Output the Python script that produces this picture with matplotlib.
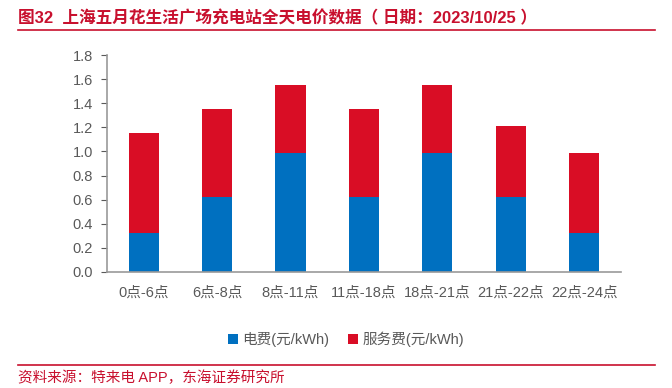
import numpy as np
import matplotlib.pyplot as plt
from matplotlib.lines import Line2D

plt.rcParams['font.family'] = ['Liberation Sans', 'Noto Sans CJK SC']
plt.rcParams['axes.unicode_minus'] = False

# 数据
periods = ['0点-6点', '6点-8点', '8点-11点', '11点-18点', '18点-21点', '21点-22点', '22点-24点']
power_fee = [0.32, 0.62, 0.99, 0.62, 0.99, 0.62, 0.32]
service_fee = [0.83, 0.73, 0.56, 0.73, 0.56, 0.59, 0.67]
yticks = [0.0, 0.2, 0.4, 0.6, 0.8, 1.0, 1.2, 1.4, 1.6, 1.8]

blue = '#0070C0'
red = '#D90D25'
title_red = '#C8102E'
gray = '#595959'

fig = plt.figure(figsize=(6.72, 3.88), dpi=100)
ax = fig.add_axes([0.159, 0.299, 0.765, 0.559])

x = np.arange(len(periods))
ax.bar(x, power_fee, width=0.41, color=blue, label='电费(元/kWh)')
ax.bar(x, service_fee, width=0.41, bottom=power_fee, color=red, label='服务费(元/kWh)')

ax.set_xlim(-0.5, len(periods) - 0.5)
ax.set_ylim(0, 1.8)
ax.set_yticks(yticks)
ax.set_yticklabels([f'{v:.1f}' for v in yticks])
ax.set_xticks(x)
ax.set_xticklabels(periods)
ax.tick_params(axis='y', colors=gray, labelsize=10.5, length=4, direction='out', pad=6)
ax.tick_params(axis='x', colors=gray, labelsize=10.5, length=0, pad=10)
for s in ['top', 'right']:
    ax.spines[s].set_visible(False)
for s in ['left', 'bottom']:
    ax.spines[s].set_color('#999999')
    ax.spines[s].set_linewidth(1.2)

ax.legend(loc='upper center', bbox_to_anchor=(0.465, -0.215), ncol=2, frameon=False,
          fontsize=10.5, handlelength=0.7, handleheight=0.7, handletextpad=0.3,
          columnspacing=1.3, labelcolor=gray)

# 标题
fig.text(0.027, 0.953, '图32  上海五月花生活广场充电站全天电价数据（ 日期：2023/10/25 ）',
         color=title_red, fontsize=12, fontweight='bold', va='center')
fig.add_artist(Line2D([0.027, 0.975], [0.922, 0.922], color=title_red, lw=1.2))
fig.add_artist(Line2D([0.027, 0.975], [0.058, 0.058], color=title_red, lw=1.2))
fig.text(0.027, 0.027, '资料来源：特来电 APP，东海证券研究所', color=title_red,
         fontsize=10.5, va='center')

fig.savefig('out.png', dpi=100)
